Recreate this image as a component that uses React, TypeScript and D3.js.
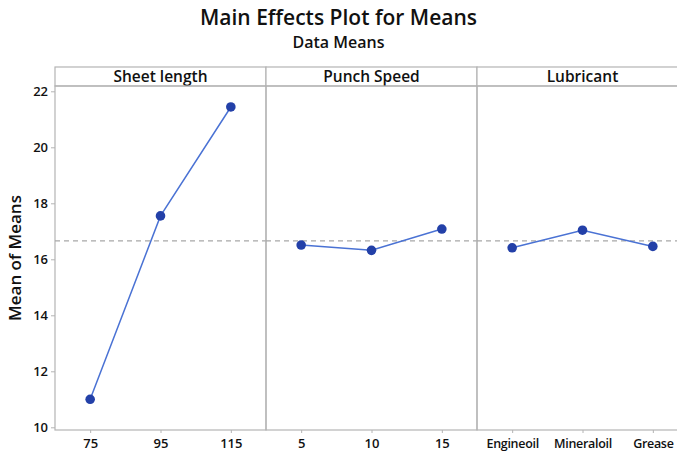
import React, { useEffect, useRef } from 'react';
import * as d3 from 'd3';

const factors = ['Sheet length', 'Punch Speed', 'Lubricant'];
const sheetLevels = ['75', '95', '115'];
const sheetMeans = [11.0, 17.55, 21.44];
const speedLevels = ['5', '10', '15'];
const speedMeans = [16.51, 16.32, 17.08];
const lubLevels = ['Engineoil', 'Mineraloil', 'Grease'];
const lubMeans = [16.41, 17.04, 16.46];
const grandMean = 16.66;
const yTicks = [10, 12, 14, 16, 18, 20, 22];

const App = () => {
    const svgRef = useRef(null);

    useEffect(() => {
        const svg = d3.select(svgRef.current);
        svg.selectAll('*').remove();
        const width = 677;
        const font = "'Open Sans', 'Noto Sans', sans-serif";
        const margin = { top: 86, left: 55, bottom: 430, right: 688 };
        const stripTop = 67;
        const gridColor = '#b4b4b4';
        const textColor = '#111';

        const panels = [
            { name: factors[0], levels: sheetLevels, means: sheetMeans },
            { name: factors[1], levels: speedLevels, means: speedMeans },
            { name: factors[2], levels: lubLevels, means: lubMeans },
        ];

        const panelScale = d3
            .scaleBand()
            .domain(factors)
            .range([margin.left, margin.right])
            .paddingInner(0);

        const yScale = d3.scaleLinear().domain([10, 22]).range([427.3, 91.3]);

        // titles
        svg.append('text')
            .attr('x', width / 2)
            .attr('y', 25)
            .attr('text-anchor', 'middle')
            .style('font-family', font)
            .style('font-size', '21px')
            .style('font-weight', 600)
            .attr('fill', textColor)
            .text('Main Effects Plot for Means');
        svg.append('text')
            .attr('x', width / 2)
            .attr('y', 48)
            .attr('text-anchor', 'middle')
            .style('font-family', font)
            .style('font-size', '16px')
            .style('font-weight', 600)
            .attr('fill', textColor)
            .text('Data Means');

        // y axis label
        svg.append('text')
            .attr('transform', `translate(21,${(margin.top + margin.bottom) / 2}) rotate(-90)`)
            .attr('text-anchor', 'middle')
            .style('font-family', font)
            .style('font-size', '17px')
            .style('font-weight', 600)
            .attr('fill', textColor)
            .text('Mean of Means');

        // y axis
        const yAxis = svg.append('g')
            .attr('transform', `translate(${margin.left},0)`)
            .call(d3.axisLeft(yScale).tickValues(yTicks).tickSize(4).tickSizeOuter(0));
        yAxis.select('.domain').remove();
        yAxis.selectAll('line').attr('stroke', gridColor);
        yAxis.selectAll('text')
            .style('font-family', font)
            .style('font-size', '13px')
            .style('font-weight', 600)
            .attr('fill', textColor)
            .attr('x', -7);

        panels.forEach((p) => {
            const x0 = panelScale(p.name);
            const w = panelScale.bandwidth();
            const xScale = d3.scalePoint().domain(p.levels).range([x0, x0 + w]).padding(0.5);

            // strip
            svg.append('rect')
                .attr('x', x0)
                .attr('y', stripTop)
                .attr('width', w)
                .attr('height', margin.top - stripTop)
                .attr('fill', 'white')
                .attr('stroke', gridColor)
                .attr('stroke-width', 1.2);
            svg.append('text')
                .attr('x', x0 + w / 2)
                .attr('y', stripTop + 15)
                .attr('text-anchor', 'middle')
                .style('font-family', font)
                .style('font-size', '15.5px')
                .style('font-weight', 600)
                .attr('fill', textColor)
                .text(p.name);

            // panel frame
            svg.append('rect')
                .attr('x', x0)
                .attr('y', margin.top)
                .attr('width', w)
                .attr('height', margin.bottom - margin.top)
                .attr('fill', 'none')
                .attr('stroke', gridColor)
                .attr('stroke-width', 1.2);

            // x axis
            const xAxis = svg.append('g')
                .attr('transform', `translate(0,${margin.bottom})`)
                .call(d3.axisBottom(xScale).tickSize(3).tickSizeOuter(0));
            xAxis.select('.domain').remove();
            xAxis.selectAll('line').attr('stroke', gridColor);
            xAxis.selectAll('text')
                .style('font-family', font)
                .style('font-size', p.name === 'Lubricant' ? '12.5px' : '13px')
                .style('font-weight', 600)
                .style('letter-spacing', p.name === 'Lubricant' ? '-0.3px' : '0px')
                .attr('fill', textColor)
                .attr('y', 9);

            // mean reference line
            svg.append('line')
                .attr('x1', x0)
                .attr('x2', x0 + w)
                .attr('y1', yScale(grandMean))
                .attr('y2', yScale(grandMean))
                .attr('stroke', '#a8a8a8')
                .attr('stroke-width', 1.3)
                .attr('stroke-dasharray', '5,4');

            const pts = p.levels.map((l, i) => ({ level: l, mean: p.means[i] }));
            const line = d3.line()
                .x((d) => xScale(d.level))
                .y((d) => yScale(d.mean));
            svg.append('path')
                .datum(pts)
                .attr('d', line)
                .attr('fill', 'none')
                .attr('stroke', '#4a72d4')
                .attr('stroke-width', 1.5);
            svg.selectAll(null)
                .data(pts)
                .enter()
                .append('circle')
                .attr('cx', (d) => xScale(d.level))
                .attr('cy', (d) => yScale(d.mean))
                .attr('r', 4.8)
                .attr('fill', '#2340a8');
        });
    }, []);

    return (
        <div style={{ position: 'fixed', left: 0, top: 0 }}>
            <svg ref={svgRef} width={677} height={459} style={{ display: 'block', background: 'white' }} />
        </div>
    );
};

export default App;
